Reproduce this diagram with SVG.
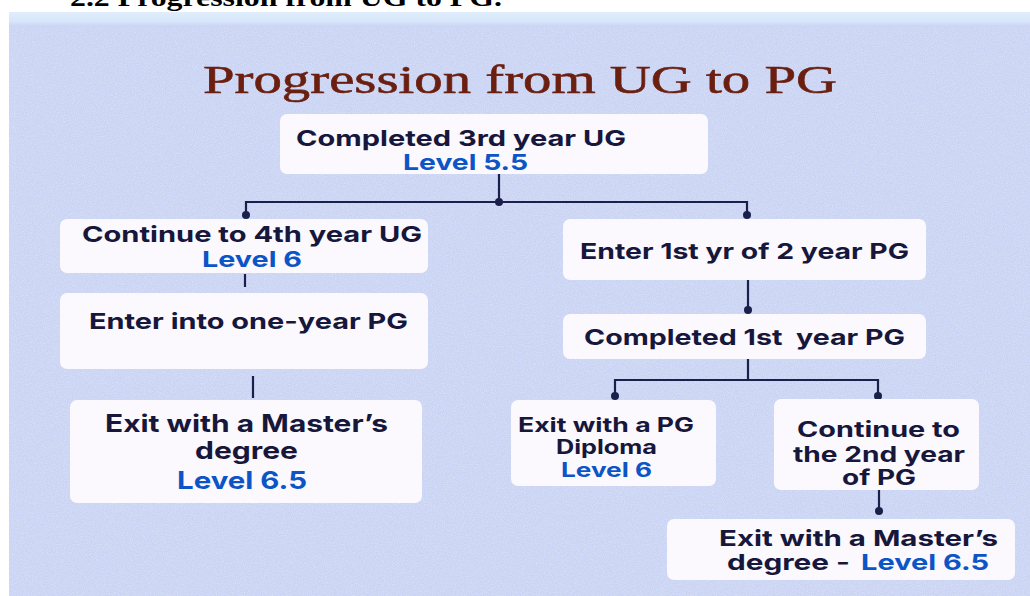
<svg xmlns="http://www.w3.org/2000/svg" width="1030" height="596" viewBox="0 0 1030 596">
<defs>
<linearGradient id="band" x1="0" y1="0" x2="0" y2="1">
<stop offset="0" stop-color="#dfedfc"/>
<stop offset="0.6" stop-color="#d9e6fb"/>
<stop offset="1" stop-color="#c9d3f3"/>
</linearGradient>
<filter id="noise" x="0" y="0" width="100%" height="100%">
<feTurbulence type="fractalNoise" baseFrequency="0.9" numOctaves="2" seed="3" result="n"/>
<feColorMatrix in="n" type="matrix" values="0 0 0 0 1  0 0 0 0 1  0 0 0 0 1  0 0 0 -1.6 1.05" result="w"/>
<feComposite in="w" in2="SourceGraphic" operator="in"/>
</filter>
<style>
.box{fill:#fbf8fe;}
.t{font-family:Inter,"DejaVu Sans",sans-serif;font-weight:700;fill:#16173b;white-space:pre;}
.b{fill:#0b55c6;}
.c{fill:none;stroke:#1b1f4b;stroke-width:2.2;}
.d{fill:#1b1f4b;}
</style>
</defs>
<rect x="0" y="0" width="1030" height="596" fill="#ffffff"/>
<text x="70" y="6" textLength="432" lengthAdjust="spacingAndGlyphs" font-family="Liberation Serif, serif" font-weight="700" font-size="26" fill="#000">2.2 Progression from UG to PG.</text>
<rect x="9" y="12" width="1021" height="584" fill="#c9d3f3"/>
<rect x="9" y="12" width="1021" height="584" fill="#c9d3f3" filter="url(#noise)" opacity="0.35"/>
<rect x="9" y="12" width="1021" height="15" fill="url(#band)"/>

<text id="title" x="203" y="93" textLength="634" lengthAdjust="spacingAndGlyphs" font-family="Liberation Serif, serif" font-size="41" fill="#6a1f10" stroke="#6a1f10" stroke-width="0.6">Progression from UG to PG</text>

<g id="connectors">
<path class="c" d="M499,174 V202 M246,215 V202 H747 V215"/>
<path class="c" d="M245,274 V287"/>
<path class="c" d="M253,376 V398"/>
<path class="c" d="M748,280 V310"/>
<path class="c" d="M748,359 V380 M615,396 V380 H878 V396"/>
<path class="c" d="M879,490 V511"/>
<circle class="d" cx="499" cy="202" r="4"/>
<circle class="d" cx="246" cy="215" r="4"/>
<circle class="d" cx="747" cy="215" r="4"/>
<circle class="d" cx="748" cy="310" r="4"/>
<circle class="d" cx="615" cy="396" r="4"/>
<circle class="d" cx="878" cy="396" r="4"/>
<circle class="d" cx="879" cy="511" r="4"/>
</g>

<g id="n1">
<rect class="box" x="280" y="114" width="428" height="60" rx="7"/>
<text class="t" x="296" y="146" font-size="22" textLength="330" lengthAdjust="spacingAndGlyphs">Completed 3rd year UG</text>
<text class="t b" x="403" y="170" font-size="22" textLength="125" lengthAdjust="spacingAndGlyphs">Level 5.5</text>
</g>

<g id="n2">
<rect class="box" x="60" y="219" width="368" height="54" rx="7"/>
<text class="t" x="82" y="242" font-size="22" textLength="340" lengthAdjust="spacingAndGlyphs">Continue to 4th year UG</text>
<text class="t b" x="202" y="267" font-size="22" textLength="100" lengthAdjust="spacingAndGlyphs">Level 6</text>
</g>

<g id="n3">
<rect class="box" x="60" y="293" width="368" height="76" rx="7"/>
<text class="t" x="89" y="329" font-size="22" textLength="319" lengthAdjust="spacingAndGlyphs">Enter into one-year PG</text>
</g>

<g id="n4">
<rect class="box" x="70" y="400" width="352" height="103" rx="7"/>
<text class="t" x="105" y="432" font-size="24" textLength="283" lengthAdjust="spacingAndGlyphs">Exit with a Master’s</text>
<text class="t" x="195" y="459" font-size="24" textLength="103" lengthAdjust="spacingAndGlyphs">degree</text>
<text class="t b" x="177" y="489" font-size="24" textLength="130" lengthAdjust="spacingAndGlyphs">Level 6.5</text>
</g>

<g id="n5">
<rect class="box" x="563" y="219" width="363" height="61" rx="7"/>
<text class="t" x="580" y="259" font-size="22" textLength="329" lengthAdjust="spacingAndGlyphs">Enter 1st yr of 2 year PG</text>
</g>

<g id="n6">
<rect class="box" x="563" y="314" width="363" height="45" rx="7"/>
<text class="t" x="584" y="345" font-size="22" textLength="321" lengthAdjust="spacingAndGlyphs">Completed 1st  year PG</text>
</g>

<g id="n7">
<rect class="box" x="511" y="400" width="205" height="86" rx="7"/>
<text class="t" x="518" y="432" font-size="20" textLength="176" lengthAdjust="spacingAndGlyphs">Exit with a PG</text>
<text class="t" x="556" y="454" font-size="20" textLength="101" lengthAdjust="spacingAndGlyphs">Diploma</text>
<text class="t b" x="561" y="477" font-size="20" textLength="91" lengthAdjust="spacingAndGlyphs">Level 6</text>
</g>

<g id="n8">
<rect class="box" x="774" y="399" width="205" height="91" rx="7"/>
<text class="t" x="797" y="437" font-size="21" textLength="163" lengthAdjust="spacingAndGlyphs">Continue to</text>
<text class="t" x="793" y="462" font-size="21" textLength="172" lengthAdjust="spacingAndGlyphs">the 2nd year</text>
<text class="t" x="842" y="485" font-size="21" textLength="74" lengthAdjust="spacingAndGlyphs">of PG</text>
</g>

<g id="n9">
<rect class="box" x="667" y="519" width="348" height="61" rx="7"/>
<text class="t" x="719" y="546" font-size="22" textLength="279" lengthAdjust="spacingAndGlyphs">Exit with a Master’s</text>
<text class="t" y="570" font-size="22"><tspan x="727" textLength="123" lengthAdjust="spacingAndGlyphs">degree -</tspan><tspan class="b" x="861" textLength="128" lengthAdjust="spacingAndGlyphs">Level 6.5</tspan></text>
</g>
</svg>
